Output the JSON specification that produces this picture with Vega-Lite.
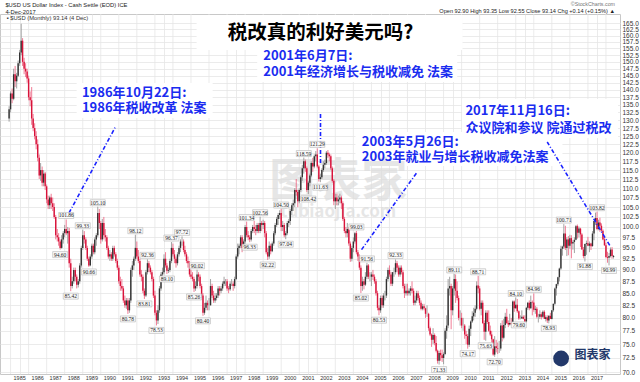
{
"$schema":"https://vega.github.io/schema/vega-lite/v6.json",
"width":620,"height":360,"autosize":"none",
"padding":{"left":0,"top":14,"right":20,"bottom":8},
"background":"white",
"config":{"view":{"stroke":"#c8c8c8"},"axis":{"gridColor":"#e6e6e6","gridWidth":0.8,"labelFont":"Liberation Sans","labelColor":"#333333"}},
"datasets":{
"px":[
{"d":"1984-06","o":130.5,"h":134.5,"l":129.5,"c":133.5},{"d":"1984-07","o":133.5,"h":139.5,"l":132.5,"c":138.8},{"d":"1984-08","o":138.8,"h":140.5,"l":135.5,"c":137},{"d":"1984-09","o":137,"h":147.5,"l":136.5,"c":145.5},{"d":"1984-10","o":145.5,"h":148.5,"l":141,"c":143},{"d":"1984-11","o":143,"h":146,"l":140.5,"c":145},{"d":"1984-12","o":145,"h":150.5,"l":144.5,"c":149.5},
{"d":"1985-01","o":149.5,"h":154.5,"l":148.5,"c":153.5},{"d":"1985-02","o":153.5,"h":164.72,"l":152.5,"c":158},{"d":"1985-03","o":158,"h":159,"l":148.5,"c":150},{"d":"1985-04","o":150,"h":151.5,"l":145.5,"c":147.5},{"d":"1985-05","o":147.5,"h":149.5,"l":144.5,"c":146.5},{"d":"1985-06","o":146.5,"h":147.5,"l":142.5,"c":144},{"d":"1985-07","o":144,"h":145,"l":136.5,"c":137.5},{"d":"1985-08","o":137.5,"h":139.5,"l":134.5,"c":136.5},{"d":"1985-09","o":136.5,"h":141,"l":128.5,"c":130.5},{"d":"1985-10","o":130.5,"h":132,"l":126.5,"c":127.5},{"d":"1985-11","o":127.5,"h":129,"l":124,"c":125},{"d":"1985-12","o":125,"h":126.5,"l":121,"c":122.5},
{"d":"1986-01","o":122.5,"h":124,"l":117.5,"c":118.5},{"d":"1986-02","o":118.5,"h":119.5,"l":112.5,"c":113.5},{"d":"1986-03","o":113.5,"h":117,"l":112,"c":115},{"d":"1986-04","o":115,"h":116,"l":110.5,"c":111.5},{"d":"1986-05","o":111.5,"h":115,"l":110.5,"c":114},{"d":"1986-06","o":114,"h":114.5,"l":109.5,"c":110.5},{"d":"1986-07","o":110.5,"h":111,"l":106,"c":107},{"d":"1986-08","o":107,"h":108,"l":104.5,"c":105.5},{"d":"1986-09","o":105.5,"h":108,"l":104.5,"c":107.5},{"d":"1986-10","o":107.5,"h":108.5,"l":104.5,"c":106},{"d":"1986-11","o":106,"h":107.5,"l":104,"c":105},{"d":"1986-12","o":105,"h":106,"l":102,"c":102.5},
{"d":"1987-01","o":102.5,"h":103,"l":97,"c":98},{"d":"1987-02","o":98,"h":99.5,"l":96.5,"c":97.5},{"d":"1987-03","o":97.5,"h":98.5,"l":95.5,"c":96.5},{"d":"1987-04","o":96.5,"h":97,"l":94.6,"c":95},{"d":"1987-05","o":95,"h":98,"l":94.8,"c":97},{"d":"1987-06","o":97,"h":99,"l":96,"c":98.5},{"d":"1987-07","o":98.5,"h":100.5,"l":97.5,"c":99.5},{"d":"1987-08","o":99.5,"h":101.86,"l":98,"c":98.5},{"d":"1987-09","o":98.5,"h":100,"l":96,"c":99},{"d":"1987-10","o":99,"h":99.8,"l":90.5,"c":91.5},{"d":"1987-11","o":91.5,"h":92.5,"l":85.42,"c":86.5},{"d":"1987-12","o":86.5,"h":88.5,"l":86,"c":87.5},
{"d":"1988-01","o":87.5,"h":90.5,"l":87,"c":90},{"d":"1988-02","o":90,"h":90.5,"l":87.5,"c":88.5},{"d":"1988-03","o":88.5,"h":89,"l":86,"c":86.8},{"d":"1988-04","o":86.8,"h":88,"l":86.2,"c":87.5},{"d":"1988-05","o":87.5,"h":91.5,"l":87,"c":91},{"d":"1988-06","o":91,"h":95.5,"l":90.5,"c":95},{"d":"1988-07","o":95,"h":99.33,"l":94.5,"c":98},{"d":"1988-08","o":98,"h":99,"l":96,"c":97},{"d":"1988-09","o":97,"h":97.5,"l":94.5,"c":95},{"d":"1988-10","o":95,"h":95.5,"l":92,"c":92.5},{"d":"1988-11","o":92.5,"h":93,"l":90.66,"c":91},{"d":"1988-12","o":91,"h":93.5,"l":90.8,"c":93},
{"d":"1989-01","o":93,"h":96,"l":92.5,"c":95.5},{"d":"1989-02","o":95.5,"h":96,"l":93.5,"c":94},{"d":"1989-03","o":94,"h":97.5,"l":93.5,"c":97},{"d":"1989-04","o":97,"h":98.5,"l":95.5,"c":98},{"d":"1989-05","o":98,"h":105.1,"l":97.5,"c":103.5},{"d":"1989-06","o":103.5,"h":104.5,"l":99.5,"c":101},{"d":"1989-07","o":101,"h":101.5,"l":96,"c":97},{"d":"1989-08","o":97,"h":102,"l":96.5,"c":101},{"d":"1989-09","o":101,"h":102.5,"l":97,"c":98},{"d":"1989-10","o":98,"h":99.5,"l":96.5,"c":97.5},{"d":"1989-11","o":97.5,"h":98,"l":94.5,"c":95},{"d":"1989-12","o":95,"h":95.5,"l":92.5,"c":93},
{"d":"1990-01","o":93,"h":94.5,"l":92,"c":93.5},{"d":"1990-02","o":93.5,"h":94,"l":92,"c":92.5},{"d":"1990-03","o":92.5,"h":95.5,"l":92,"c":95},{"d":"1990-04","o":95,"h":95.5,"l":93,"c":93.5},{"d":"1990-05","o":93.5,"h":94,"l":91.5,"c":92},{"d":"1990-06","o":92,"h":92.5,"l":90,"c":90.5},{"d":"1990-07","o":90.5,"h":91,"l":87,"c":87.5},{"d":"1990-08","o":87.5,"h":88.5,"l":85.5,"c":86.5},{"d":"1990-09","o":86.5,"h":88,"l":85.5,"c":86},{"d":"1990-10","o":86,"h":86.5,"l":83,"c":83.5},{"d":"1990-11","o":83.5,"h":84.5,"l":82,"c":82.5},{"d":"1990-12","o":82.5,"h":84,"l":81.8,"c":83.5},
{"d":"1991-01","o":83.5,"h":84,"l":80.78,"c":81.5},{"d":"1991-02","o":81.5,"h":84,"l":81,"c":83.5},{"d":"1991-03","o":83.5,"h":90.5,"l":83,"c":90},{"d":"1991-04","o":90,"h":92,"l":88.5,"c":91},{"d":"1991-05","o":91,"h":93,"l":90,"c":92.5},{"d":"1991-06","o":92.5,"h":98.12,"l":92,"c":95},{"d":"1991-07","o":95,"h":96.5,"l":92.5,"c":93},{"d":"1991-08","o":93,"h":94.5,"l":91.5,"c":92},{"d":"1991-09","o":92,"h":92.5,"l":88.5,"c":89},{"d":"1991-10","o":89,"h":90,"l":87.5,"c":88.5},{"d":"1991-11","o":88.5,"h":89,"l":85,"c":85.5},{"d":"1991-12","o":85.5,"h":86,"l":83.81,"c":84.5},
{"d":"1992-01","o":84.5,"h":90,"l":84.2,"c":89.5},{"d":"1992-02","o":89.5,"h":92.36,"l":89,"c":91.5},{"d":"1992-03","o":91.5,"h":92,"l":89.5,"c":90.5},{"d":"1992-04","o":90.5,"h":91,"l":89,"c":89.5},{"d":"1992-05","o":89.5,"h":90,"l":87.5,"c":88},{"d":"1992-06","o":88,"h":88.5,"l":84,"c":84.5},{"d":"1992-07","o":84.5,"h":85.5,"l":80.5,"c":81},{"d":"1992-08","o":81,"h":81.5,"l":78.53,"c":79.5},{"d":"1992-09","o":79.5,"h":82.5,"l":78.8,"c":81.5},{"d":"1992-10","o":81.5,"h":86.5,"l":81,"c":86},{"d":"1992-11","o":86,"h":89.5,"l":85.5,"c":89},{"d":"1992-12","o":89,"h":90.5,"l":87.5,"c":89.5},
{"d":"1993-01","o":89.5,"h":93.5,"l":89,"c":92.5},{"d":"1993-02","o":92.5,"h":94,"l":90.5,"c":91},{"d":"1993-03","o":91,"h":91.5,"l":89.1,"c":89.8},{"d":"1993-04","o":89.8,"h":90.5,"l":89.3,"c":90},{"d":"1993-05","o":90,"h":92.5,"l":89.5,"c":92},{"d":"1993-06","o":92,"h":96.37,"l":91.5,"c":95},{"d":"1993-07","o":95,"h":96,"l":93,"c":93.5},{"d":"1993-08","o":93.5,"h":94.5,"l":91.5,"c":92.5},{"d":"1993-09","o":92.5,"h":93,"l":90.5,"c":91.5},{"d":"1993-10","o":91.5,"h":94,"l":91,"c":93.5},{"d":"1993-11","o":93.5,"h":95.5,"l":93,"c":95},{"d":"1993-12","o":95,"h":97,"l":94,"c":96.5},
{"d":"1994-01","o":96.5,"h":97.72,"l":95.5,"c":96.5},{"d":"1994-02","o":96.5,"h":97,"l":94,"c":94.5},{"d":"1994-03","o":94.5,"h":95.5,"l":93,"c":93.5},{"d":"1994-04","o":93.5,"h":94,"l":91.5,"c":92},{"d":"1994-05","o":92,"h":93,"l":90.5,"c":91.5},{"d":"1994-06","o":91.5,"h":92,"l":88.5,"c":89},{"d":"1994-07","o":89,"h":90,"l":88,"c":88.5},{"d":"1994-08","o":88.5,"h":89.5,"l":87.5,"c":88},{"d":"1994-09","o":88,"h":88.5,"l":85.26,"c":86},{"d":"1994-10","o":86,"h":87.5,"l":85.5,"c":86.5},{"d":"1994-11","o":86.5,"h":90.02,"l":86,"c":89},{"d":"1994-12","o":89,"h":89.5,"l":87.5,"c":88.5},
{"d":"1995-01","o":88.5,"h":89,"l":86,"c":86.5},{"d":"1995-02","o":86.5,"h":87,"l":84,"c":84.5},{"d":"1995-03","o":84.5,"h":85,"l":80.4,"c":81},{"d":"1995-04","o":81,"h":83,"l":80.6,"c":82},{"d":"1995-05","o":82,"h":84.5,"l":81.5,"c":83},{"d":"1995-06","o":83,"h":83.5,"l":81.5,"c":82.5},{"d":"1995-07","o":82.5,"h":84,"l":81.5,"c":82.5},{"d":"1995-08","o":82.5,"h":88,"l":82.5,"c":86.5},{"d":"1995-09","o":86.5,"h":87,"l":84,"c":84.5},{"d":"1995-10","o":84.5,"h":85.5,"l":83,"c":83.5},{"d":"1995-11","o":83.5,"h":85,"l":83,"c":84},{"d":"1995-12","o":84,"h":85,"l":83.5,"c":84.5},
{"d":"1996-01","o":84.5,"h":86.5,"l":84,"c":86},{"d":"1996-02","o":86,"h":86.5,"l":84.5,"c":85.5},{"d":"1996-03","o":85.5,"h":86.5,"l":85,"c":86},{"d":"1996-04","o":86,"h":87.5,"l":85.5,"c":87},{"d":"1996-05","o":87,"h":88.5,"l":86.5,"c":87.5},{"d":"1996-06","o":87.5,"h":88,"l":86.5,"c":87.5},{"d":"1996-07","o":87.5,"h":88,"l":85.5,"c":86},{"d":"1996-08","o":86,"h":86.5,"l":85,"c":85.8},{"d":"1996-09","o":85.8,"h":87.5,"l":85.5,"c":87},{"d":"1996-10","o":87,"h":88,"l":86.5,"c":87},{"d":"1996-11","o":87,"h":87.5,"l":85.5,"c":86.5},{"d":"1996-12","o":86.5,"h":88.5,"l":86,"c":88},
{"d":"1997-01","o":88,"h":93.5,"l":87.8,"c":93},{"d":"1997-02","o":93,"h":96,"l":92.5,"c":95},{"d":"1997-03","o":95,"h":96,"l":93.5,"c":95.5},{"d":"1997-04","o":95.5,"h":98,"l":95,"c":97.5},{"d":"1997-05","o":97.5,"h":98,"l":94,"c":95},{"d":"1997-06","o":95,"h":97,"l":94.5,"c":96.5},{"d":"1997-07","o":96.5,"h":100.5,"l":96,"c":100},{"d":"1997-08","o":100,"h":101.34,"l":97.5,"c":98},{"d":"1997-09","o":98,"h":99,"l":96.8,"c":97.5},{"d":"1997-10","o":97.5,"h":98,"l":96.33,"c":97},{"d":"1997-11","o":97,"h":99.5,"l":96.5,"c":99},{"d":"1997-12","o":99,"h":100.5,"l":98.5,"c":100},
{"d":"1998-01","o":100,"h":101.5,"l":98.5,"c":99.5},{"d":"1998-02","o":99.5,"h":100.5,"l":98,"c":99},{"d":"1998-03","o":99,"h":101,"l":98.5,"c":100.5},{"d":"1998-04","o":100.5,"h":101,"l":98.5,"c":99},{"d":"1998-05","o":99,"h":102.56,"l":98.5,"c":101},{"d":"1998-06","o":101,"h":101.5,"l":99,"c":100.5},{"d":"1998-07","o":100.5,"h":101.8,"l":99.5,"c":101},{"d":"1998-08","o":101,"h":101.5,"l":97.5,"c":98.5},{"d":"1998-09","o":98.5,"h":99,"l":93.5,"c":94},{"d":"1998-10","o":94,"h":95,"l":92.22,"c":93},{"d":"1998-11","o":93,"h":96.5,"l":92.5,"c":95.5},{"d":"1998-12","o":95.5,"h":96,"l":93.5,"c":94.2},
{"d":"1999-01","o":94.2,"h":96.5,"l":94,"c":96},{"d":"1999-02","o":96,"h":99,"l":95.5,"c":98.5},{"d":"1999-03","o":98.5,"h":101,"l":98,"c":100.5},{"d":"1999-04","o":100.5,"h":102.5,"l":100,"c":102},{"d":"1999-05","o":102,"h":103.5,"l":100.5,"c":103},{"d":"1999-06","o":103,"h":104.2,"l":102,"c":103.5},{"d":"1999-07","o":103.5,"h":104.5,"l":99,"c":100},{"d":"1999-08","o":100,"h":101.5,"l":99,"c":100.5},{"d":"1999-09","o":100.5,"h":101,"l":97.5,"c":98},{"d":"1999-10","o":98,"h":99,"l":97.04,"c":98.5},{"d":"1999-11","o":98.5,"h":101.5,"l":98,"c":101},{"d":"1999-12","o":101,"h":102,"l":100,"c":101.5},
{"d":"2000-01","o":101.5,"h":104.5,"l":100.5,"c":104},{"d":"2000-02","o":104,"h":106,"l":103,"c":105.5},{"d":"2000-03","o":105.5,"h":107,"l":104,"c":106},{"d":"2000-04","o":106,"h":110,"l":105,"c":109.5},{"d":"2000-05","o":109.5,"h":112.5,"l":108,"c":109},{"d":"2000-06","o":109,"h":109.5,"l":105,"c":106.5},{"d":"2000-07","o":106.5,"h":110,"l":106,"c":109.5},{"d":"2000-08","o":109.5,"h":113.5,"l":109,"c":113},{"d":"2000-09","o":113,"h":116.5,"l":112,"c":115.5},{"d":"2000-10","o":115.5,"h":118.59,"l":114,"c":117.5},{"d":"2000-11","o":117.5,"h":118,"l":114.5,"c":115.5},{"d":"2000-12","o":115.5,"h":116,"l":109,"c":109.5},
{"d":"2001-01","o":109.5,"h":112,"l":108.42,"c":111.5},{"d":"2001-02","o":111.5,"h":114,"l":110.5,"c":113.5},{"d":"2001-03","o":113.5,"h":117.5,"l":113,"c":117},{"d":"2001-04","o":117,"h":118.5,"l":114.5,"c":116},{"d":"2001-05","o":116,"h":119.5,"l":115.5,"c":119},{"d":"2001-06","o":119,"h":120.5,"l":117.5,"c":119.5},{"d":"2001-07","o":119.5,"h":121.29,"l":115.5,"c":116},{"d":"2001-08","o":116,"h":116.5,"l":111.8,"c":112.5},{"d":"2001-09","o":112.5,"h":114,"l":111.63,"c":113},{"d":"2001-10","o":113,"h":115.5,"l":112.5,"c":115},{"d":"2001-11","o":115,"h":117.5,"l":114.5,"c":116.5},{"d":"2001-12","o":116.5,"h":118,"l":115.5,"c":117},
{"d":"2002-01","o":117,"h":120.5,"l":116.5,"c":120},{"d":"2002-02","o":120,"h":120.8,"l":118.5,"c":119.5},{"d":"2002-03","o":119.5,"h":120,"l":117.5,"c":119},{"d":"2002-04","o":119,"h":119.5,"l":115,"c":115.5},{"d":"2002-05","o":115.5,"h":116,"l":111.5,"c":112},{"d":"2002-06","o":112,"h":112.5,"l":105.5,"c":106.5},{"d":"2002-07","o":106.5,"h":108.5,"l":104.5,"c":107.5},{"d":"2002-08","o":107.5,"h":108.5,"l":105.5,"c":106.5},{"d":"2002-09","o":106.5,"h":108,"l":105.5,"c":107},{"d":"2002-10","o":107,"h":108.5,"l":106,"c":107.5},{"d":"2002-11","o":107.5,"h":108,"l":104.5,"c":106},{"d":"2002-12","o":106,"h":106.5,"l":101.5,"c":102},
{"d":"2003-01","o":102,"h":102.5,"l":98.5,"c":99},{"d":"2003-02","o":99,"h":100,"l":97.5,"c":98.5},{"d":"2003-03","o":98.5,"h":101,"l":97.5,"c":99.5},{"d":"2003-04","o":99.5,"h":100,"l":95.5,"c":96},{"d":"2003-05","o":96,"h":96.5,"l":91.8,"c":92.5},{"d":"2003-06","o":92.5,"h":95.5,"l":91.9,"c":95},{"d":"2003-07","o":95,"h":97.5,"l":94,"c":96.5},{"d":"2003-08","o":96.5,"h":98.8,"l":96,"c":98.5},{"d":"2003-09","o":98.5,"h":99.03,"l":93.5,"c":94},{"d":"2003-10","o":94,"h":94.5,"l":92,"c":93},{"d":"2003-11","o":93,"h":93.5,"l":90,"c":90.5},{"d":"2003-12","o":90.5,"h":91,"l":85.02,"c":86.5},
{"d":"2004-01","o":86.5,"h":88.5,"l":85.5,"c":87.5},{"d":"2004-02","o":87.5,"h":88,"l":85.8,"c":86.8},{"d":"2004-03","o":86.8,"h":89.5,"l":86.5,"c":88.5},{"d":"2004-04","o":88.5,"h":91.56,"l":88,"c":91},{"d":"2004-05","o":91,"h":91.3,"l":88,"c":88.5},{"d":"2004-06","o":88.5,"h":89.5,"l":87.5,"c":88.5},{"d":"2004-07","o":88.5,"h":89.5,"l":86.5,"c":89},{"d":"2004-08","o":89,"h":90,"l":87.8,"c":88.5},{"d":"2004-09","o":88.5,"h":89,"l":87,"c":87.5},{"d":"2004-10","o":87.5,"h":88,"l":84.5,"c":85},{"d":"2004-11","o":85,"h":85.5,"l":81.5,"c":82},{"d":"2004-12","o":82,"h":82.5,"l":80.53,"c":81.5},
{"d":"2005-01","o":81.5,"h":84.5,"l":81,"c":84},{"d":"2005-02","o":84,"h":84.5,"l":82,"c":82.5},{"d":"2005-03","o":82.5,"h":85,"l":82,"c":84.5},{"d":"2005-04","o":84.5,"h":85.5,"l":83.5,"c":84.5},{"d":"2005-05","o":84.5,"h":88.5,"l":84,"c":88},{"d":"2005-06","o":88,"h":90.5,"l":87.5,"c":90},{"d":"2005-07","o":90,"h":91,"l":88.5,"c":89},{"d":"2005-08","o":89,"h":89.5,"l":86.5,"c":87},{"d":"2005-09","o":87,"h":89.5,"l":86.5,"c":89.5},{"d":"2005-10","o":89.5,"h":90.5,"l":88.5,"c":89.5},{"d":"2005-11","o":89.5,"h":92.33,"l":89,"c":91.5},{"d":"2005-12","o":91.5,"h":92,"l":89.5,"c":90.5},
{"d":"2006-01","o":90.5,"h":91,"l":88.5,"c":89},{"d":"2006-02","o":89,"h":91,"l":88.5,"c":90.5},{"d":"2006-03","o":90.5,"h":91,"l":89,"c":89.5},{"d":"2006-04","o":89.5,"h":90,"l":86,"c":86.5},{"d":"2006-05","o":86.5,"h":87,"l":84,"c":85},{"d":"2006-06","o":85,"h":87,"l":84.5,"c":85.5},{"d":"2006-07","o":85.5,"h":87,"l":84.5,"c":85},{"d":"2006-08","o":85,"h":86,"l":84.5,"c":85.5},{"d":"2006-09","o":85.5,"h":86.5,"l":84.5,"c":86},{"d":"2006-10","o":86,"h":87.5,"l":85,"c":85.5},{"d":"2006-11","o":85.5,"h":86,"l":82.5,"c":83},{"d":"2006-12","o":83,"h":84.5,"l":82.5,"c":83.5},
{"d":"2007-01","o":83.5,"h":85.5,"l":83,"c":85},{"d":"2007-02","o":85,"h":85.5,"l":83.5,"c":84},{"d":"2007-03","o":84,"h":84.5,"l":82.5,"c":83},{"d":"2007-04","o":83,"h":83.5,"l":81.5,"c":81.8},{"d":"2007-05","o":81.8,"h":82.8,"l":81.5,"c":82.3},{"d":"2007-06","o":82.3,"h":82.8,"l":81.5,"c":81.9},{"d":"2007-07","o":81.9,"h":82,"l":80,"c":80.8},{"d":"2007-08","o":80.8,"h":82.5,"l":80.2,"c":80.8},{"d":"2007-09","o":80.8,"h":81,"l":77.5,"c":78},{"d":"2007-10","o":78,"h":78.3,"l":76.5,"c":76.8},{"d":"2007-11","o":76.8,"h":77,"l":74.5,"c":75.8},{"d":"2007-12","o":75.8,"h":78,"l":75,"c":76.7},
{"d":"2008-01","o":76.7,"h":77,"l":74.8,"c":75.2},{"d":"2008-02","o":75.2,"h":76.5,"l":73.5,"c":73.8},{"d":"2008-03","o":73.8,"h":74,"l":71.5,"c":72},{"d":"2008-04","o":72,"h":73.8,"l":71.33,"c":73.4},{"d":"2008-05","o":73.4,"h":74,"l":72,"c":73},{"d":"2008-06","o":73,"h":74,"l":71.8,"c":72.5},{"d":"2008-07","o":72.5,"h":73.5,"l":71.4,"c":73.2},{"d":"2008-08","o":73.2,"h":78,"l":73,"c":77.5},{"d":"2008-09","o":77.5,"h":80.5,"l":76,"c":78.5},{"d":"2008-10","o":78.5,"h":88,"l":78,"c":86},{"d":"2008-11","o":86,"h":88.5,"l":84.5,"c":86.5},{"d":"2008-12","o":86.5,"h":87,"l":77.8,"c":81.5},
{"d":"2009-01","o":81.5,"h":86.5,"l":80.5,"c":86},{"d":"2009-02","o":86,"h":89.11,"l":84.5,"c":88},{"d":"2009-03","o":88,"h":89,"l":83,"c":85.5},{"d":"2009-04","o":85.5,"h":87.5,"l":83.5,"c":84},{"d":"2009-05","o":84,"h":84.5,"l":79.5,"c":80},{"d":"2009-06","o":80,"h":81.5,"l":78.5,"c":80},{"d":"2009-07","o":80,"h":81,"l":78,"c":78.5},{"d":"2009-08","o":78.5,"h":80,"l":77.5,"c":78.5},{"d":"2009-09","o":78.5,"h":78.8,"l":76,"c":76.8},{"d":"2009-10","o":76.8,"h":77.5,"l":75,"c":76.5},{"d":"2009-11","o":76.5,"h":76.9,"l":74.17,"c":74.9},{"d":"2009-12","o":74.9,"h":78.5,"l":74.5,"c":77.9},
{"d":"2010-01","o":77.9,"h":79.5,"l":76.5,"c":79.3},{"d":"2010-02","o":79.3,"h":81.3,"l":79,"c":80.3},{"d":"2010-03","o":80.3,"h":82,"l":79.5,"c":81},{"d":"2010-04","o":81,"h":82.5,"l":80.2,"c":81.8},{"d":"2010-05","o":81.8,"h":87.5,"l":81.5,"c":86.6},{"d":"2010-06","o":86.6,"h":88.71,"l":85,"c":86},{"d":"2010-07","o":86,"h":86.5,"l":81.5,"c":81.8},{"d":"2010-08","o":81.8,"h":83.5,"l":80.5,"c":83},{"d":"2010-09","o":83,"h":83.5,"l":78.8,"c":79},{"d":"2010-10","o":79,"h":79.5,"l":75.8,"c":77.3},{"d":"2010-11","o":77.3,"h":81.5,"l":75.63,"c":81},{"d":"2010-12","o":81,"h":81.5,"l":78.8,"c":79.2},
{"d":"2011-01","o":79.2,"h":81.5,"l":77.3,"c":77.5},{"d":"2011-02","o":77.5,"h":78.5,"l":76.5,"c":76.8},{"d":"2011-03","o":76.8,"h":77.5,"l":75.3,"c":75.9},{"d":"2011-04","o":75.9,"h":76,"l":72.9,"c":73.1},{"d":"2011-05","o":73.1,"h":76.5,"l":72.7,"c":74.6},{"d":"2011-06","o":74.6,"h":75.8,"l":73.5,"c":74.3},{"d":"2011-07","o":74.3,"h":75.3,"l":73.2,"c":74.2},{"d":"2011-08","o":74.2,"h":75.6,"l":73.4,"c":74.2},{"d":"2011-09","o":74.2,"h":79,"l":73.8,"c":78.5},{"d":"2011-10","o":78.5,"h":79.5,"l":75.5,"c":76.2},{"d":"2011-11","o":76.2,"h":79.8,"l":75.9,"c":78.6},{"d":"2011-12","o":78.6,"h":81,"l":78,"c":80.2},
{"d":"2012-01","o":80.2,"h":81.8,"l":78.8,"c":79},{"d":"2012-02","o":79,"h":79.5,"l":78.2,"c":78.7},{"d":"2012-03","o":78.7,"h":80.8,"l":78.5,"c":79},{"d":"2012-04","o":79,"h":80,"l":78.6,"c":78.8},{"d":"2012-05","o":78.8,"h":83.5,"l":78.6,"c":83.3},{"d":"2012-06","o":83.3,"h":83.5,"l":81.2,"c":81.9},{"d":"2012-07","o":81.9,"h":84.1,"l":81.8,"c":82.6},{"d":"2012-08","o":82.6,"h":83.8,"l":81,"c":81.3},{"d":"2012-09","o":81.3,"h":81.5,"l":79.6,"c":79.9},{"d":"2012-10","o":79.9,"h":80.5,"l":79.7,"c":79.9},{"d":"2012-11","o":79.9,"h":81.5,"l":79.8,"c":80.2},{"d":"2012-12","o":80.2,"h":80.5,"l":79.7,"c":79.8},
{"d":"2013-01","o":79.8,"h":80.5,"l":79.1,"c":79.3},{"d":"2013-02","o":79.3,"h":82.2,"l":79.1,"c":82},{"d":"2013-03","o":82,"h":83.2,"l":81.6,"c":83},{"d":"2013-04","o":83,"h":83.5,"l":81.5,"c":81.9},{"d":"2013-05","o":81.9,"h":84.5,"l":81.8,"c":83.2},{"d":"2013-06","o":83.2,"h":83.5,"l":80.5,"c":83.1},{"d":"2013-07","o":83.1,"h":84.96,"l":81.2,"c":81.6},{"d":"2013-08","o":81.6,"h":82.4,"l":80.8,"c":81.8},{"d":"2013-09","o":81.8,"h":82.2,"l":79.9,"c":80.2},{"d":"2013-10","o":80.2,"h":80.8,"l":79.1,"c":80.2},{"d":"2013-11","o":80.2,"h":81.5,"l":79.8,"c":80.7},{"d":"2013-12","o":80.7,"h":81.1,"l":79.7,"c":80.2},
{"d":"2014-01","o":80.2,"h":81.5,"l":80,"c":81.2},{"d":"2014-02","o":81.2,"h":81.5,"l":79.8,"c":79.8},{"d":"2014-03","o":79.8,"h":80.5,"l":79.3,"c":80.1},{"d":"2014-04","o":80.1,"h":80.5,"l":79,"c":79.5},{"d":"2014-05","o":79.5,"h":80.5,"l":78.93,"c":80.4},{"d":"2014-06","o":80.4,"h":81,"l":79.8,"c":79.8},{"d":"2014-07","o":79.8,"h":81.5,"l":79.7,"c":81.5},{"d":"2014-08","o":81.5,"h":82.9,"l":81.2,"c":82.8},{"d":"2014-09","o":82.8,"h":86.2,"l":82.5,"c":86},{"d":"2014-10","o":86,"h":87,"l":84.5,"c":86.9},{"d":"2014-11","o":86.9,"h":88.5,"l":86.5,"c":88.4},{"d":"2014-12","o":88.4,"h":90.5,"l":87.5,"c":90.3},
{"d":"2015-01","o":90.3,"h":95.5,"l":90,"c":94.8},{"d":"2015-02","o":94.8,"h":95.5,"l":93.2,"c":95.3},{"d":"2015-03","o":95.3,"h":100.71,"l":94.8,"c":98.4},{"d":"2015-04","o":98.4,"h":100.3,"l":94.5,"c":95},{"d":"2015-05","o":95,"h":97.5,"l":93.1,"c":97},{"d":"2015-06","o":97,"h":97.8,"l":93.3,"c":95.5},{"d":"2015-07","o":95.5,"h":98.1,"l":94.8,"c":97.3},{"d":"2015-08","o":97.3,"h":98,"l":92.6,"c":96},{"d":"2015-09","o":96,"h":96.8,"l":94.6,"c":96.4},{"d":"2015-10","o":96.4,"h":97.5,"l":93.8,"c":96.9},{"d":"2015-11","o":96.9,"h":100.5,"l":96.8,"c":100.2},{"d":"2015-12","o":100.2,"h":100.6,"l":97.2,"c":98.6},
{"d":"2016-01","o":98.6,"h":100.1,"l":97.5,"c":99.6},{"d":"2016-02","o":99.6,"h":99.8,"l":95.2,"c":98.2},{"d":"2016-03","o":98.2,"h":98.5,"l":94.6,"c":94.6},{"d":"2016-04","o":94.6,"h":95.2,"l":92.6,"c":93.1},{"d":"2016-05","o":93.1,"h":96,"l":91.88,"c":95.9},{"d":"2016-06","o":95.9,"h":96.7,"l":93.4,"c":96.1},{"d":"2016-07","o":96.1,"h":97.6,"l":95.4,"c":95.5},{"d":"2016-08","o":95.5,"h":96.5,"l":94,"c":96},{"d":"2016-09","o":96,"h":96.2,"l":94.5,"c":95.4},{"d":"2016-10","o":95.4,"h":99,"l":95.3,"c":98.4},{"d":"2016-11","o":98.4,"h":101.5,"l":96.8,"c":101.5},{"d":"2016-12","o":101.5,"h":103.6,"l":100.5,"c":102.2},
{"d":"2017-01","o":102.2,"h":103.82,"l":99.2,"c":99.5},{"d":"2017-02","o":99.5,"h":101.8,"l":99.2,"c":101.1},{"d":"2017-03","o":101.1,"h":102.3,"l":98.8,"c":100.3},{"d":"2017-04","o":100.3,"h":100.9,"l":98.9,"c":99.1},{"d":"2017-05","o":99.1,"h":99.4,"l":96.8,"c":97},{"d":"2017-06","o":97,"h":97.8,"l":95.5,"c":95.6},{"d":"2017-07","o":95.6,"h":96.2,"l":92.6,"c":92.9},{"d":"2017-08","o":92.9,"h":94.1,"l":91.6,"c":92.7},{"d":"2017-09","o":92.7,"h":93.8,"l":90.99,"c":93.1},{"d":"2017-10","o":93.1,"h":95.1,"l":92.8,"c":94.6},{"d":"2017-11","o":94.6,"h":95.2,"l":92.5,"c":93.1},{"d":"2017-12","o":92.9,"h":93.35,"l":92.55,"c":93.14}
],
"lab":[
{"d":"1987-08","v":101.86,"p":"a"},{"d":"1988-07","v":99.33,"p":"a"},{"d":"1989-05","v":105.1,"p":"a"},{"d":"1991-06","v":98.12,"p":"a"},{"d":"1992-02","v":92.36,"p":"a"},{"d":"1993-06","v":96.37,"p":"a"},{"d":"1994-01","v":97.72,"p":"a"},{"d":"1994-11","v":90.02,"p":"a"},{"d":"1997-08","v":101.34,"p":"a"},{"d":"1998-05","v":102.56,"p":"a"},{"d":"1999-07","v":104.5,"p":"a"},{"d":"2000-10","v":118.59,"p":"a"},{"d":"2001-07","v":121.29,"p":"a"},{"d":"2003-09","v":99.03,"p":"a"},{"d":"2004-04","v":91.56,"p":"a"},{"d":"2005-11","v":92.33,"p":"a"},{"d":"2009-02","v":89.11,"p":"a"},{"d":"2010-06","v":88.71,"p":"a"},{"d":"2012-07","v":84.1,"p":"a"},{"d":"2013-07","v":84.96,"p":"a"},{"d":"2015-03","v":100.71,"p":"a"},{"d":"2017-01","v":103.82,"p":"a"},
{"d":"1987-04","v":94.6,"p":"b"},{"d":"1987-11","v":85.42,"p":"b"},{"d":"1988-11","v":90.66,"p":"b"},{"d":"1991-01","v":80.78,"p":"b"},{"d":"1991-12","v":83.81,"p":"b"},{"d":"1992-08","v":78.53,"p":"b"},{"d":"1993-03","v":89.1,"p":"b"},{"d":"1994-09","v":85.26,"p":"b"},{"d":"1995-03","v":80.4,"p":"b"},{"d":"1997-10","v":96.33,"p":"b"},{"d":"1998-10","v":92.22,"p":"b"},{"d":"1999-10","v":97.04,"p":"b"},{"d":"2001-01","v":108.42,"p":"b"},{"d":"2001-09","v":111.63,"p":"b"},{"d":"2003-12","v":85.02,"p":"b"},{"d":"2004-12","v":80.53,"p":"b"},{"d":"2008-04","v":71.33,"p":"b"},{"d":"2009-11","v":74.17,"p":"b"},{"d":"2010-11","v":75.63,"p":"b"},{"d":"2011-05","v":72.7,"p":"b"},{"d":"2012-09","v":79.6,"p":"b"},{"d":"2014-05","v":78.93,"p":"b"},{"d":"2016-05","v":91.88,"p":"b"},{"d":"2017-09","v":90.99,"p":"b"}
],
"ann":[
{"d":"1988-06-14","v":138.9,"t":"1986年10月22日:"},{"d":"1988-06-14","v":133.9,"t":"1986年税收改革 法案"},
{"d":"1998-07-04","v":152.2,"t":"2001年6月7日:"},{"d":"1998-07-04","v":146.3,"t":"2001年经济增长与税收减免 法案"},
{"d":"2003-12-20","v":123.2,"t":"2003年5月26日:"},{"d":"2003-12-20","v":118.7,"t":"2003年就业与增长税收减免法案"},
{"d":"2009-09-16","v":132.9,"t":"2017年11月16日:"},{"d":"2009-09-16","v":127.5,"t":"众议院和参议 院通过税改"}
],
"ln":[
{"g":1,"d":"1990-04-22","v":127.8},{"g":1,"d":"1987-09-27","v":103.5},
{"g":2,"d":"2001-09-04","v":132.6},{"g":2,"d":"2001-09-04","v":117.0},
{"g":3,"d":"2007-01-12","v":114.4},{"g":3,"d":"2003-12-14","v":94.6},
{"g":4,"d":"2014-03-30","v":123.2},{"g":4,"d":"2017-09-15","v":95.6}
],
"jul":[
{"d":"1984-07-01"},{"d":"1985-07-01"},{"d":"1986-07-01"},{"d":"1987-07-01"},{"d":"1988-07-01"},{"d":"1989-07-01"},{"d":"1990-07-01"},{"d":"1991-07-01"},{"d":"1992-07-01"},{"d":"1993-07-01"},{"d":"1994-07-01"},{"d":"1995-07-01"},{"d":"1996-07-01"},{"d":"1997-07-01"},{"d":"1998-07-01"},{"d":"1999-07-01"},{"d":"2000-07-01"},{"d":"2001-07-01"},{"d":"2002-07-01"},{"d":"2003-07-01"},{"d":"2004-07-01"},{"d":"2005-07-01"},{"d":"2006-07-01"},{"d":"2007-07-01"},{"d":"2008-07-01"},{"d":"2009-07-01"},{"d":"2010-07-01"},{"d":"2011-07-01"},{"d":"2012-07-01"},{"d":"2013-07-01"},{"d":"2014-07-01"},{"d":"2015-07-01"},{"d":"2016-07-01"},{"d":"2017-07-01"}
],
"yr":[
{"d":"1985-01-01","t":"1985"},{"d":"1986-01-01","t":"1986"},{"d":"1987-01-01","t":"1987"},{"d":"1988-01-01","t":"1988"},{"d":"1989-01-01","t":"1989"},{"d":"1990-01-01","t":"1990"},{"d":"1991-01-01","t":"1991"},{"d":"1992-01-01","t":"1992"},{"d":"1993-01-01","t":"1993"},{"d":"1994-01-01","t":"1994"},{"d":"1995-01-01","t":"1995"},{"d":"1996-01-01","t":"1996"},{"d":"1997-01-01","t":"1997"},{"d":"1998-01-01","t":"1998"},{"d":"1999-01-01","t":"1999"},{"d":"2000-01-01","t":"2000"},{"d":"2001-01-01","t":"2001"},{"d":"2002-01-01","t":"2002"},{"d":"2003-01-01","t":"2003"},{"d":"2004-01-01","t":"2004"},{"d":"2005-01-01","t":"2005"},{"d":"2006-01-01","t":"2006"},{"d":"2007-01-01","t":"2007"},{"d":"2008-01-01","t":"2008"},{"d":"2009-01-01","t":"2009"},{"d":"2010-01-01","t":"2010"},{"d":"2011-01-01","t":"2011"},{"d":"2012-01-01","t":"2012"},{"d":"2013-01-01","t":"2013"},{"d":"2014-01-01","t":"2014"},{"d":"2015-01-01","t":"2015"},{"d":"2016-01-01","t":"2016"},{"d":"2017-01-01","t":"2017"}
],
"hl":[
{"d":"1984-03-18","v":172.5,"t":"$USD US Dollar Index - Cash Settle (EOD) ICE","s":5.8,"c":"#222222"},
{"d":"1984-03-18","v":169.6,"t":"4-Dec-2017","s":5.8,"c":"#222222"},
{"d":"1984-04-10","v":167.0,"t":"▪ $USD (Monthly) 93.14 (4 Dec)","s":5.8,"c":"#333333"}
],
"hr":[
{"d":"2017-12-31","v":173.0,"t":"©StockCharts.com","s":5.3,"c":"#777777"},
{"d":"2017-12-31","v":170.0,"t":"Open 92.90  High 93.35  Low 92.55  Close 93.14  Chg +0.14 (+0.15%) ▲","s":5.6,"c":"#222222"}
]
},
"layer":[
{"data":{"name":"jul"},
 "mark":{"type":"rule","color":"#e6e6e6","strokeWidth":0.8},
 "encoding":{"x":{"field":"d","type":"temporal"}}},
{"data":{"values":[{"d":"2002-03-07","v":161.2}]},
 "mark":{"type":"point","shape":"M-1,-0.1316L1,-0.1316L1,0.1316L-1,0.1316Z","size":70756,"filled":true,"color":"white","opacity":1},
 "encoding":{"x":{"field":"d","type":"temporal"},"y":{"field":"v","type":"quantitative"}}},
{"data":{"values":[{"d":"1991-12-06","v":136.4}]},
 "mark":{"type":"point","shape":"M-1,-0.2574L1,-0.2574L1,0.2574L-1,0.2574Z","size":18496,"filled":true,"color":"white","opacity":1},
 "encoding":{"x":{"field":"d","type":"temporal"},"y":{"field":"v","type":"quantitative"}}},
{"data":{"values":[{"d":"2003-09-17","v":149.4}]},
 "mark":{"type":"point","shape":"M-1,-0.185L1,-0.185L1,0.185L-1,0.185Z","size":40000,"filled":true,"color":"white","opacity":1},
 "encoding":{"x":{"field":"d","type":"temporal"},"y":{"field":"v","type":"quantitative"}}},
{"data":{"values":[{"d":"2009-05-08","v":121.1}]},
 "mark":{"type":"point","shape":"M-1,-0.1643L1,-0.1643L1,0.1643L-1,0.1643Z","size":42849,"filled":true,"color":"white","opacity":1},
 "encoding":{"x":{"field":"d","type":"temporal"},"y":{"field":"v","type":"quantitative"}}},
{"data":{"values":[{"d":"2013-11-05","v":130.5}]},
 "mark":{"type":"point","shape":"M-1,-0.25L1,-0.25L1,0.25L-1,0.25Z","size":24336,"filled":true,"color":"white","opacity":1},
 "encoding":{"x":{"field":"d","type":"temporal"},"y":{"field":"v","type":"quantitative"}}},
{"data":{"values":[{"d":"2002-08-29","v":111.7,"t":"图表家"},{"d":"2002-08-29","v":103.7,"t":"tubiaojia.com"}]},
 "mark":{"type":"text","font":"Noto Sans CJK SC","fontWeight":"bold","color":"#dcdcdc","opacity":0.7},
 "encoding":{"x":{"field":"d","type":"temporal"},"y":{"field":"v","type":"quantitative"},"text":{"field":"t"},
 "size":{"condition":{"test":"datum.t=='图表家'","value":46},"value":17}}},
{"data":{"name":"px"},
 "mark":{"type":"rule","strokeWidth":0.8},
 "encoding":{
  "x":{"field":"d","type":"temporal","scale":{"type":"utc","nice":false,"domain":[447724800000,1514678400000]},
   "axis":{"orient":"bottom","title":null,"values":[473385600000,504921600000,536457600000,567993600000,599616000000,631152000000,662688000000,694224000000,725846400000,757382400000,788918400000,820454400000,852076800000,883612800000,915148800000,946684800000,978307200000,1009843200000,1041379200000,1072915200000,1104537600000,1136073600000,1167609600000,1199145600000,1230768000000,1262304000000,1293840000000,1325376000000,1356998400000,1388534400000,1420070400000,1451606400000,1483228800000],
   "labels":false,"grid":true,"ticks":false,"domain":false}},
  "y":{"field":"h","type":"quantitative","scale":{"type":"log","domain":[69.7,168.7],"nice":false},
   "axis":{"orient":"right","title":null,"values":[70,72.5,75,77.5,80,82.5,85,87.5,90,92.5,95,97.5,100,102.5,105,107.5,110,112.5,115,117.5,120,122.5,125,127.5,130,132.5,135,137.5,140,142.5,145,147.5,150,152.5,155,157.5,160,162.5,165],"format":".1f","grid":true,"ticks":false,"domain":false,"labelFontSize":6.5,"labelPadding":2,"labelOverlap":false,"labelFlush":false}},
  "y2":{"field":"l"},
  "color":{"condition":{"test":"datum.c>=datum.o","value":"#8c8c8c"},"value":"#ec5a7a"}}},
{"data":{"name":"px"},
 "mark":{"type":"bar","width":1.4},
 "encoding":{"x":{"field":"d","type":"temporal"},"y":{"field":"o","type":"quantitative"},"y2":{"field":"c"},
  "color":{"condition":{"test":"datum.c>=datum.o","value":"#333333"},"value":"#d8133a"}}},
{"data":{"name":"yr"},
 "mark":{"type":"text","font":"Liberation Sans","fontSize":5.5,"color":"#333333","baseline":"middle","align":"center"},
 "encoding":{"x":{"field":"d","type":"temporal"},"y":{"datum":69.05},"text":{"field":"t"}}},
{"data":{"name":"ln"},
 "mark":{"type":"line","color":"#1a22ff","strokeWidth":1.6,"strokeDash":[4,2,1,2]},
 "encoding":{"x":{"field":"d","type":"temporal"},"y":{"field":"v","type":"quantitative"},"detail":{"field":"g"},"order":{"field":"v"}}},
{"data":{"name":"lab"},"transform":[{"filter":"datum.p=='a'"}],
 "mark":{"type":"point","shape":"M-1,-0.4L1,-0.4L1,0.4L-1,0.4Z","size":225,"filled":true,"fill":"#fafafa","stroke":"#b5b5b5","strokeWidth":0.6,"opacity":1,"yOffset":-4},
 "encoding":{"x":{"field":"d","type":"temporal"},"y":{"field":"v","type":"quantitative"}}},
{"data":{"name":"lab"},"transform":[{"filter":"datum.p=='b'"}],
 "mark":{"type":"point","shape":"M-1,-0.4L1,-0.4L1,0.4L-1,0.4Z","size":225,"filled":true,"fill":"#fafafa","stroke":"#b5b5b5","strokeWidth":0.6,"opacity":1,"yOffset":5},
 "encoding":{"x":{"field":"d","type":"temporal"},"y":{"field":"v","type":"quantitative"}}},
{"data":{"name":"lab"},"transform":[{"filter":"datum.p=='a'"}],
 "mark":{"type":"text","font":"Liberation Serif","fontSize":5.5,"color":"#222222","yOffset":-4,"baseline":"middle"},
 "encoding":{"x":{"field":"d","type":"temporal"},"y":{"field":"v","type":"quantitative"},"text":{"field":"v","format":".2f"}}},
{"data":{"name":"lab"},"transform":[{"filter":"datum.p=='b'"}],
 "mark":{"type":"text","font":"Liberation Serif","fontSize":5.5,"color":"#222222","yOffset":5,"baseline":"middle"},
 "encoding":{"x":{"field":"d","type":"temporal"},"y":{"field":"v","type":"quantitative"},"text":{"field":"v","format":".2f"}}},
{"data":{"name":"ann"},
 "mark":{"type":"text","align":"left","baseline":"middle","font":"Noto Sans CJK SC","fontWeight":"bold","fontSize":13,"color":"#1a2cf0"},
 "encoding":{"x":{"field":"d","type":"temporal"},"y":{"field":"v","type":"quantitative"},"text":{"field":"t"}}},
{"data":{"values":[{"d":"2001-09-04","v":161.0,"t":"税改真的利好美元吗?"}]},
 "mark":{"type":"text","align":"center","baseline":"middle","font":"Noto Sans CJK SC","fontWeight":"bold","fontSize":19.5,"color":"#000000"},
 "encoding":{"x":{"field":"d","type":"temporal"},"y":{"field":"v","type":"quantitative"},"text":{"field":"t"}}},
{"data":{"name":"hl"},
 "mark":{"type":"text","align":"left","baseline":"middle","font":"Liberation Sans"},
 "encoding":{"x":{"field":"d","type":"temporal"},"y":{"field":"v","type":"quantitative"},"text":{"field":"t"},
  "size":{"field":"s","type":"quantitative","scale":null},"color":{"field":"c","type":"nominal","scale":null}}},
{"data":{"name":"hr"},
 "mark":{"type":"text","align":"right","baseline":"middle","font":"Liberation Sans"},
 "encoding":{"x":{"field":"d","type":"temporal"},"y":{"field":"v","type":"quantitative"},"text":{"field":"t"},
  "size":{"field":"s","type":"quantitative","scale":null},"color":{"field":"c","type":"nominal","scale":null}}},
{"data":{"values":[{"d":"2015-01-05","v":72.4}]},
 "mark":{"type":"point","shape":"circle","filled":true,"size":250,"color":"#22386a","opacity":1},
 "encoding":{"x":{"field":"d","type":"temporal"},"y":{"field":"v","type":"quantitative"}}},
{"data":{"values":[{"d":"2016-10-04","v":73.0,"t":"图表家"}]},
 "mark":{"type":"text","align":"center","baseline":"middle","font":"Noto Sans CJK SC","fontWeight":"bold","fontSize":12,"color":"#22386a"},
 "encoding":{"x":{"field":"d","type":"temporal"},"y":{"field":"v","type":"quantitative"},"text":{"field":"t"}}}
]
}
